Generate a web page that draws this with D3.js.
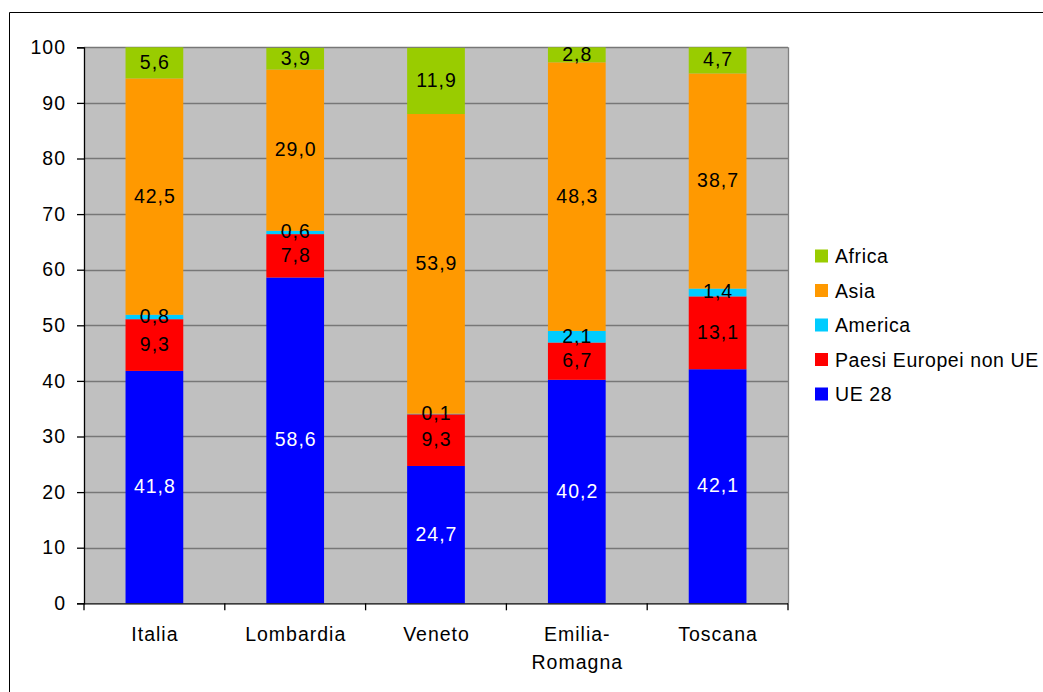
<!DOCTYPE html>
<html><head><meta charset="utf-8">
<script src="https://cdn.jsdelivr.net/npm/d3@7/dist/d3.min.js"></script>
<style>
html,body{margin:0;padding:0;background:#fff;}
svg{display:block;font-family:"Liberation Sans",Arial,sans-serif;}
</style></head>
<body>
<svg id="c" width="1043" height="692"></svg>
<script>
const categories = [["Italia"],["Lombardia"],["Veneto"],["Emilia-","Romagna"],["Toscana"]];
const seriesNames = ["UE 28","Paesi Europei non UE","America","Asia","Africa"];
const seriesColors = ["#0000ff","#ff0000","#00ccff","#ff9900","#99cc00"];
const ue28      = [41.8, 58.6, 24.7, 40.2, 42.1];
const paesiNonUE= [9.3, 7.8, 9.3, 6.7, 13.1];
const america   = [0.8, 0.6, 0.1, 2.1, 1.4];
const asia      = [42.5, 29.0, 53.9, 48.3, 38.7];
const africa    = [5.6, 3.9, 11.9, 2.8, 4.7];
const yTicks = [0,10,20,30,40,50,60,70,80,90,100];

const seriesValues = [ue28, paesiNonUE, america, asia, africa];
const labelColors = ["#fff","#000","#000","#000","#000"];
const FS = 19.5, LS = 1;

const svg = d3.select("#c");
// outer frame
svg.append("path").attr("d","M9.5,692 V12.5 H1043").attr("fill","none").attr("stroke","#000").attr("stroke-width",1);

const L=84, R=788, T=47.3, B=603.3;
const catKeys = categories.map(c=>c.join(" "));
const x = d3.scaleBand().domain(catKeys).range([L,R]).padding(0);
const y = d3.scaleLinear().domain([0,100]).range([B,T]);

svg.append("rect").attr("x",L).attr("y",T).attr("width",R-L).attr("height",B-T).attr("fill","#c0c0c0");

const g = svg.append("g");
// gridlines
g.selectAll("line.grid").data(yTicks.filter(d=>d>0)).join("line")
  .attr("x1",L).attr("x2",R).attr("y1",d=>Math.round(y(d))+0.5).attr("y2",d=>Math.round(y(d))+0.5)
  .attr("stroke","#777").attr("stroke-width",1.3);
svg.append("line").attr("x1",R+0.5).attr("x2",R+0.5).attr("y1",T).attr("y2",B).attr("stroke","#808080").attr("stroke-width",1.3);

// stacked bars
const barW = x.bandwidth()*0.41;
categories.forEach((c,i)=>{
  let cum=0;
  seriesValues.forEach((vals,s)=>{
    const v=vals[i];
    const y0=cum, y1=Math.min(cum+v,100);
    cum+=v;
    const cx = x(catKeys[i])+x.bandwidth()/2;
    g.append("rect").attr("x",cx-barW/2).attr("width",barW)
      .attr("y",y(y1)).attr("height",y(y0)-y(y1)).attr("fill",seriesColors[s]);
  });
});
// labels
categories.forEach((c,i)=>{
  let cum=0;
  seriesValues.forEach((vals,s)=>{
    const v=vals[i];
    const mid=cum+v/2; cum+=v;
    const cx = x(catKeys[i])+x.bandwidth()/2;
    g.append("text").attr("x",cx+LS/2).attr("y",y(Math.min(mid,99)) - 1)
      .attr("dominant-baseline","central").attr("text-anchor","middle")
      .attr("font-size",FS).attr("letter-spacing",LS).attr("fill",labelColors[s])
      .text(v.toFixed(1).replace(".",","));
  });
});

// y axis
const yAxis = d3.axisLeft(y).tickValues(yTicks).tickSize(7).tickPadding(11).tickFormat(d=>d);
const ya = svg.append("g").attr("transform",`translate(${L},0)`).call(yAxis);
ya.select(".domain").attr("stroke","#000").attr("stroke-width",1.3);
ya.selectAll(".tick line").attr("stroke","#000").attr("stroke-width",1.3);
ya.selectAll(".tick text").attr("font-size",FS).attr("letter-spacing",LS).attr("fill","#000")
  .attr("font-family","Liberation Sans, Arial, sans-serif");

// x axis
const xa = svg.append("g").attr("transform",`translate(0,${B})`);
xa.append("line").attr("x1",L).attr("x2",R).attr("y1",0.5).attr("y2",0.5).attr("stroke","#000").attr("stroke-width",1.3);
const bounds = catKeys.map(k=>x(k)).concat([R]);
xa.selectAll("line.t").data(bounds).join("line").attr("class","t")
  .attr("x1",d=>d).attr("x2",d=>d).attr("y1",0).attr("y2",7).attr("stroke","#000").attr("stroke-width",1.3);
categories.forEach((c,i)=>{
  const cx = x(catKeys[i])+x.bandwidth()/2;
  const t = xa.append("text").attr("text-anchor","middle").attr("font-size",FS).attr("letter-spacing",LS).attr("fill","#000");
  c.forEach((line,j)=>{
    t.append("tspan").attr("x",cx+LS/2).attr("y",38+j*28).text(line);
  });
});

// legend
const lg = svg.append("g");
const order = [4,3,2,1,0];
order.forEach((s,k)=>{
  const yy = 256 + k*34.5;
  lg.append("rect").attr("x",815).attr("y",yy-6.5).attr("width",13).attr("height",13).attr("fill",seriesColors[s]);
  lg.append("text").attr("x",835).attr("y",yy).attr("dominant-baseline","central")
    .attr("font-size",FS).attr("letter-spacing",0.6).attr("fill","#000").text(seriesNames[s]);
});
</script>
</body></html>
